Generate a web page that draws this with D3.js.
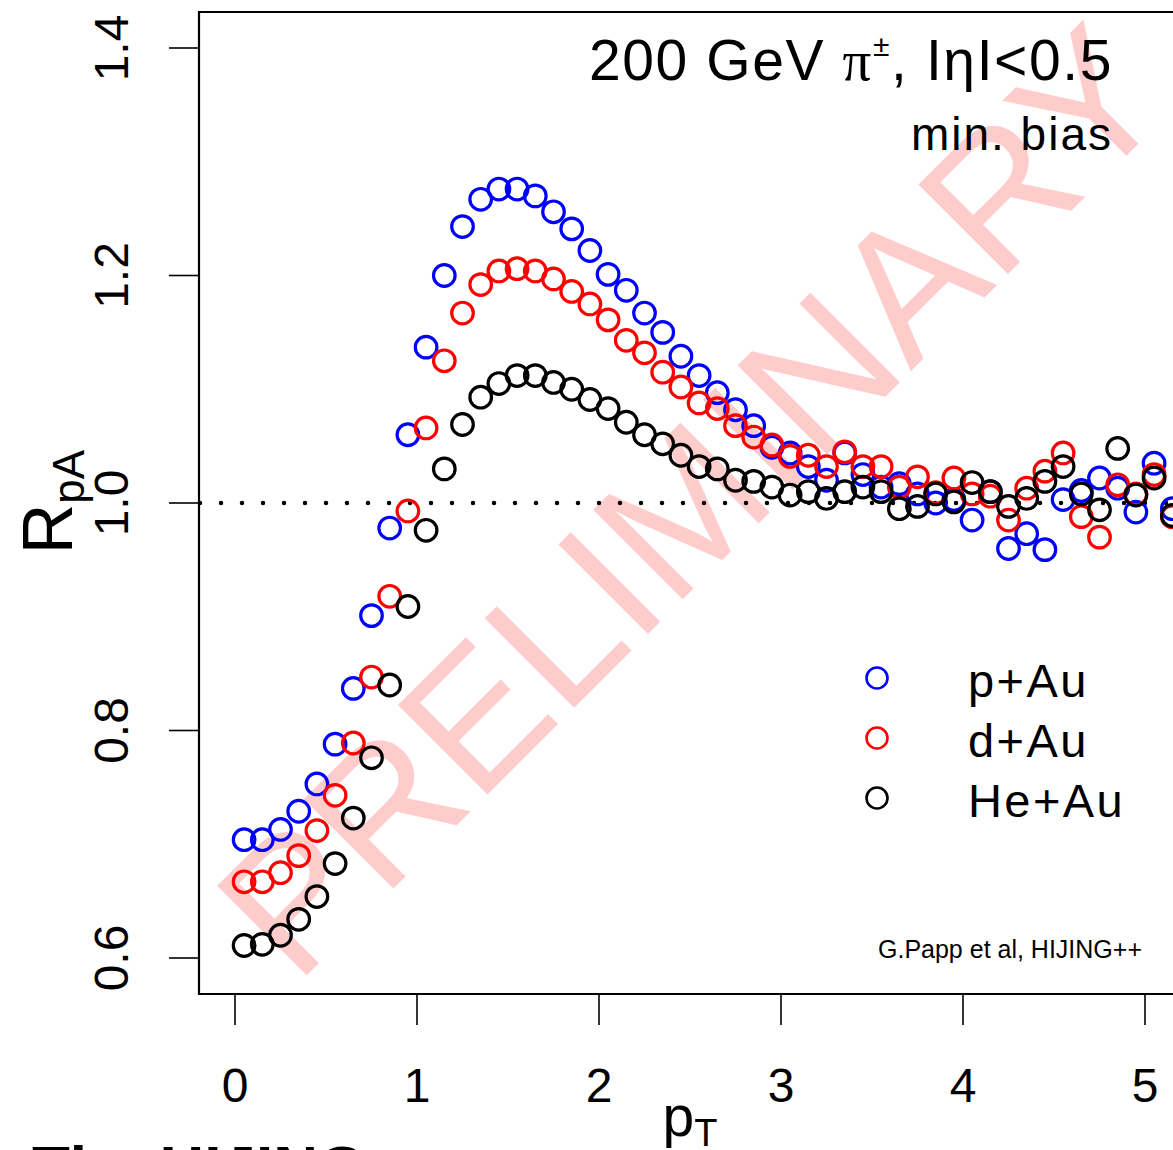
<!DOCTYPE html>
<html>
<head>
    <meta charset="utf-8">
    <title>RpA pions</title>
    <script src="https://d3js.org/d3.v7.min.js"></script>
    <style>
        body { margin: 0; background: #fff; }
        text { font-family: "Liberation Sans", Arial, Helvetica, sans-serif; }
    </style>
</head>
<body>
    <script>
        const pT = [0.05, 0.15, 0.25, 0.35, 0.45, 0.55, 0.65, 0.75, 0.85, 0.95,
                    1.05, 1.15, 1.25, 1.35, 1.45, 1.55, 1.65, 1.75, 1.85, 1.95,
                    2.05, 2.15, 2.25, 2.35, 2.45, 2.55, 2.65, 2.75, 2.85, 2.95,
                    3.05, 3.15, 3.25, 3.35, 3.45, 3.55, 3.65, 3.75, 3.85, 3.95,
                    4.05, 4.15, 4.25, 4.35, 4.45, 4.55, 4.65, 4.75, 4.85, 4.95,
                    5.05, 5.15];

        const pAu = [0.704, 0.704, 0.713, 0.729, 0.753, 0.788, 0.837, 0.901, 0.978, 1.060,
                     1.137, 1.200, 1.243, 1.267, 1.276, 1.276, 1.270, 1.256, 1.241, 1.222,
                     1.201, 1.187, 1.167, 1.150, 1.129, 1.112, 1.097, 1.082, 1.068, 1.049,
                     1.044, 1.032, 1.020, 1.044, 1.025, 1.014, 1.017, 1.008, 1.000, 1.003,
                     0.985, 1.010, 0.960, 0.973, 0.959, 1.003, 1.011, 1.022, 1.013, 0.992,
                     1.035, 0.995];

        const dAu = [0.667, 0.667, 0.675, 0.690, 0.712, 0.743, 0.789, 0.847, 0.918, 0.993,
                     1.066, 1.125, 1.167, 1.192, 1.204, 1.206, 1.204, 1.197, 1.186, 1.175,
                     1.161, 1.143, 1.132, 1.115, 1.102, 1.088, 1.083, 1.068, 1.058, 1.051,
                     1.041, 1.042, 1.032, 1.045, 1.032, 1.032, 1.014, 1.023, 1.009, 1.022,
                     1.008, 1.006, 0.985, 1.013, 1.028, 1.044, 0.988, 0.970, 1.016, 1.008,
                     1.025, 0.988];

        const HeAu = [0.611, 0.612, 0.620, 0.634, 0.654, 0.683, 0.723, 0.776, 0.840, 0.909,
                      0.976, 1.030, 1.069, 1.093, 1.105, 1.112, 1.112, 1.106, 1.100, 1.091,
                      1.083, 1.071, 1.060, 1.052, 1.042, 1.032, 1.030, 1.020, 1.019, 1.014,
                      1.007, 1.010, 1.004, 1.010, 1.014, 1.010, 0.995, 0.997, 1.008, 1.001,
                      1.018, 1.010, 0.997, 1.004, 1.019, 1.032, 1.008, 0.994, 1.048, 1.007,
                      1.022, 0.989];

        const seriesNames = ["p+Au", "d+Au", "He+Au"];
        const seriesColors = ["#0000ff", "#ff0000", "#000000"];
        const xTicks = [0, 1, 2, 3, 4, 5];
        const yTicks = [0.6, 0.8, 1.0, 1.2, 1.4];

        const width = 1173, height = 1150;
        const svg = d3.select('body').append('svg')
            .attr('width', width)
            .attr('height', height);

        const x = d3.scaleLinear().domain([0, 5]).range([235, 1145]);
        const y = d3.scaleLinear().domain([0.6, 1.4]).range([958, 48]);

        const box = { left: 199, top: 12, bottom: 994 };

        // watermark behind everything
        svg.append('text')
            .attr('transform', 'translate(296,986) rotate(-45)')
            .attr('font-size', 184)
            .attr('fill', '#ffcccc')
            .text('PRELIMINARY');

        // dotted line at 1
        svg.append('line')
            .attr('x1', box.left + 1).attr('x2', width)
            .attr('y1', y(1)).attr('y2', y(1))
            .attr('stroke', '#000')
            .attr('stroke-width', 4.5)
            .attr('stroke-linecap', 'round')
            .attr('stroke-dasharray', '0 21');

        const series = [pAu, dAu, HeAu];
        series.forEach((vals, i) => {
            svg.append('g')
                .selectAll('circle')
                .data(pT.map((p, j) => [p, vals[j]]))
                .enter()
                .append('circle')
                .attr('cx', d => x(d[0]))
                .attr('cy', d => y(d[1]))
                .attr('r', 10.8)
                .attr('fill', 'none')
                .attr('stroke', seriesColors[i])
                .attr('stroke-width', 3.2);
        });

        // frame
        svg.append('path')
            .attr('d', `M${width + 5},${box.top}H${box.left}V${box.bottom}H${width + 5}`)
            .attr('fill', 'none')
            .attr('stroke', '#000')
            .attr('stroke-width', 2.2);

        // x axis
        const xAxis = svg.append('g');
        xAxis.selectAll('line').data(xTicks).enter().append('line')
            .attr('x1', d => x(d)).attr('x2', d => x(d))
            .attr('y1', box.bottom).attr('y2', box.bottom + 31)
            .attr('stroke', '#000').attr('stroke-width', 1.6);
        xAxis.selectAll('text').data(xTicks).enter().append('text')
            .attr('x', d => x(d))
            .attr('y', 1102)
            .attr('text-anchor', 'middle')
            .attr('font-size', 48)
            .text(d => d);

        // y axis
        const yAxis = svg.append('g');
        yAxis.selectAll('line').data(yTicks).enter().append('line')
            .attr('x1', box.left - 30).attr('x2', box.left)
            .attr('y1', d => y(d)).attr('y2', d => y(d))
            .attr('stroke', '#000').attr('stroke-width', 1.6);
        yAxis.selectAll('text').data(yTicks).enter().append('text')
            .attr('transform', d => `translate(128,${y(d)}) rotate(-90)`)
            .attr('text-anchor', 'middle')
            .attr('font-size', 48)
            .text(d => d3.format('.1f')(d));

        // axis titles
        const yl = svg.append('text')
            .attr('transform', 'translate(72,502) rotate(-90)')
            .attr('text-anchor', 'middle')
            .attr('font-size', 70);
        yl.append('tspan').text('R');
        yl.append('tspan').attr('font-size', 44).attr('dy', 12).text('pA');

        const xl = svg.append('text')
            .attr('x', 690).attr('y', 1136)
            .attr('text-anchor', 'middle')
            .attr('font-size', 57);
        xl.append('tspan').text('p');
        xl.append('tspan').attr('font-size', 38).attr('dy', 10).text('T');

        // title
        const title = svg.append('text')
            .attr('x', 1113).attr('y', 80)
            .attr('text-anchor', 'end')
            .attr('font-size', 57)
            .attr('letter-spacing', 1.6);
        title.append('tspan').text('200 GeV ');
        title.append('tspan').style('font-family', '"Liberation Serif", "DejaVu Serif", serif').text('\u03c0');
        title.append('tspan').attr('font-size', 30).attr('dy', -24).text('\u00b1');
        title.append('tspan').attr('dy', 24).text(', I\u03b7I<0.5');

        svg.append('text')
            .attr('x', 1113).attr('y', 150)
            .attr('text-anchor', 'end')
            .attr('font-size', 46)
            .attr('letter-spacing', 2)
            .text('min. bias');

        // legend
        const legendY = [678, 738, 798];
        seriesNames.forEach((name, i) => {
            svg.append('circle')
                .attr('cx', 877).attr('cy', legendY[i])
                .attr('r', 10.5)
                .attr('fill', 'none')
                .attr('stroke', seriesColors[i])
                .attr('stroke-width', 2.6);
            svg.append('text')
                .attr('x', 968).attr('y', legendY[i] + 19)
                .attr('font-size', 47)
                .attr('letter-spacing', 2.4)
                .text(name);
        });

        svg.append('text')
            .attr('x', 878).attr('y', 958)
            .attr('font-size', 25)
            .text('G.Papp et al, HIJING++');

        // caption below, cut by the window
        svg.append('text')
            .attr('x', 32).attr('y', 1189)
            .attr('font-size', 62)
            .attr('font-weight', 'bold')
            .text('The HIJING++');
    </script>
</body>
</html>
